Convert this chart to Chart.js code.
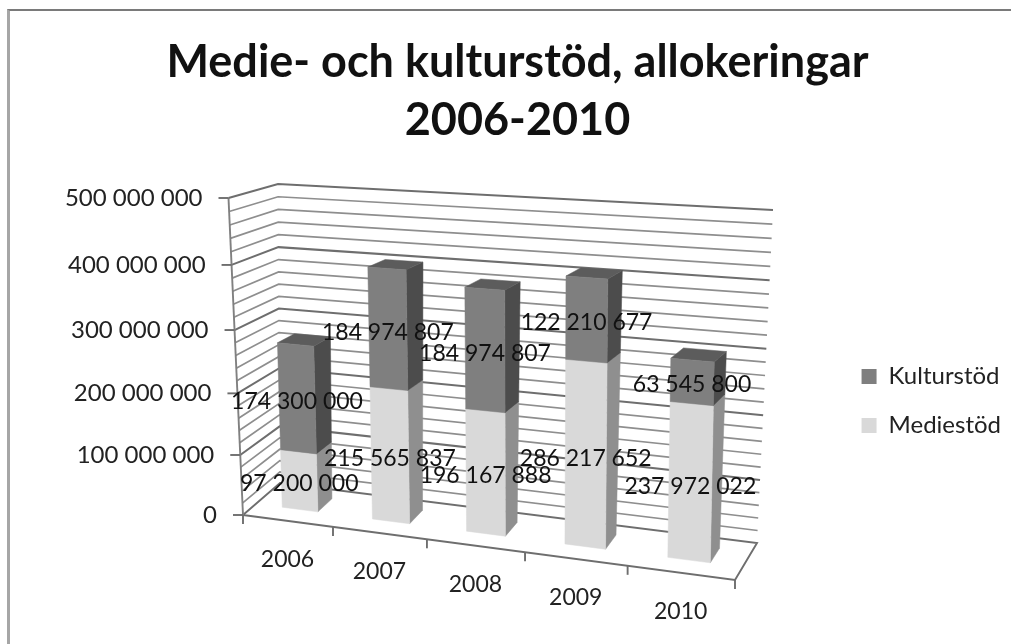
<!DOCTYPE html>
<html>
<head>
<meta charset="utf-8">
<style>
  html, body { margin: 0; background: #fff; }
  #wrap { position: relative; width: 1011px; height: 644px; overflow: hidden; }
  #frame { position: absolute; left: 7px; top: 9px; width: 1100px; height: 800px; box-sizing: border-box;
           border-top: 2px solid #7a7a7a; border-left: 3px solid #a6a6a6; filter: blur(0.4px); }
  canvas { position: absolute; left: 0; top: 0; filter: blur(0.7px); }
</style>
<script src="https://cdn.jsdelivr.net/npm/chart.js@4"></script>
</head>
<body>
<div id="wrap">
  <canvas id="chart" width="1011" height="644"></canvas>
  <div id="frame"></div>
</div>
<script>
const years = ['2006', '2007', '2008', '2009', '2010'];
const mediestod = [97200000, 215565837, 196167888, 286217652, 237972022];
const kulturstod = [174300000, 184974807, 184974807, 122210677, 63545800];
const seriesNames = ['Mediestöd', 'Kulturstöd'];
const frontColors = ['#d9d9d9', '#7f7f7f'];
const sideColors = ['#8f8f8f', '#4c4c4c'];
const topColors = ['#b5b5b5', '#5c5c5c'];

const fontFamily = 'Lato, "Open Sans", sans-serif';
const textFont = '23px ' + fontFamily;
const axisFont = '24px ' + fontFamily;

// Corners of the 3D box as they land on the picture (f = front, b = back)
const box = {
    fl0: [243, 515], fr0: [735, 580], fl1: [228.5, 198], fr1: [738.5, 229],
    bl0: [280, 483], br0: [757, 543], bl1: [278, 184], br1: [773, 210]
};
const perspX = 0.1045, perspY = 0.066;
const barFront = 0.35, barBack = 0.75;

function formatValue(v) {
    return String(Math.round(v)).replace(/\B(?=(\d{3})+$)/g, ' ');
}

// u, v, w are 0..1 along category axis, value axis and depth
function project(u, v, w) {
    const s = (1 - perspX) * u / (1 - perspX * u);
    const t = (1 - perspY) * v / (1 - perspY * v);
    const out = [0, 0];
    for (const i of [0, 1]) {
        const f0 = box.fl0[i] + (box.fr0[i] - box.fl0[i]) * s;
        const f1 = box.fl1[i] + (box.fr1[i] - box.fl1[i]) * s;
        const b0 = box.bl0[i] + (box.br0[i] - box.bl0[i]) * s;
        const b1 = box.bl1[i] + (box.br1[i] - box.bl1[i]) * s;
        const front = f0 + (f1 - f0) * t;
        const back = b0 + (b1 - b0) * t;
        out[i] = front + (back - front) * w;
    }
    return out;
}

function line(ctx, pts, color, width) {
    ctx.beginPath();
    pts.forEach((p, i) => i ? ctx.lineTo(p[0], p[1]) : ctx.moveTo(p[0], p[1]));
    ctx.strokeStyle = color;
    ctx.lineWidth = width;
    ctx.stroke();
}

function face(ctx, pts, color) {
    ctx.beginPath();
    pts.forEach((p, i) => i ? ctx.lineTo(p[0], p[1]) : ctx.moveTo(p[0], p[1]));
    ctx.closePath();
    ctx.fillStyle = color;
    ctx.fill();
    ctx.strokeStyle = color;
    ctx.lineWidth = 0.5;
    ctx.stroke();
}

const scene3d = {
    id: 'scene3d',
    beforeDatasetsDraw(chart) {
        const ctx = chart.ctx;
        const area = chart.chartArea;
        const yScale = chart.scales.y;
        const toU = px => (px - area.left) / area.width;
        const toV = px => (area.bottom - px) / area.height;

        ctx.save();

        // walls
        yScale.ticks.forEach(tick => {
            const v = toV(yScale.getPixelForValue(tick.value));
            const major = tick.value % 100000000 === 0;
            const color = major ? '#6e6e6e' : '#8e8e8e';
            const width = major ? 2 : 1.7;
            if (tick.value === 0) return;
            line(ctx, [project(0, v, 0), project(0, v, 1), project(1, v, 1)], color, width);
        });

        // floor outline and axes
        line(ctx, [project(0, 0, 0), project(0, 0, 1), project(1, 0, 1), project(1, 0, 0), project(0, 0, 0)], '#6e6e6e', 1.9);
        line(ctx, [project(0, 0, 0), project(0, 1, 0)], '#808080', 1.9);

        // value axis ticks and labels
        ctx.font = axisFont;
        ctx.fillStyle = '#222';
        ctx.textAlign = 'right';
        ctx.textBaseline = 'middle';
        yScale.ticks.forEach(tick => {
            if (tick.value % 100000000 !== 0) return;
            const p = project(0, toV(yScale.getPixelForValue(tick.value)), 0);
            line(ctx, [[p[0] - 10, p[1]], p], '#6e6e6e', 1.9);
            ctx.fillText(formatValue(tick.value), p[0] - 26, p[1]);
        });

        // category axis ticks and labels
        for (let i = 0; i <= years.length; i++) {
            const p = project(i / years.length, 0, 0);
            line(ctx, [p, [p[0], p[1] + 9]], '#6e6e6e', 1.9);
        }
        ctx.font = textFont;
        ctx.textAlign = 'center';
        years.forEach((year, i) => {
            const p = project((i + 0.5) / years.length, 0, 0);
            ctx.fillText(year, p[0], p[1] + 39);
        });

        // bars, left to right and bottom to top
        years.forEach((year, j) => {
            chart.data.datasets.forEach((ds, d) => {
                const el = chart.getDatasetMeta(d).data[j];
                const u0 = toU(el.x - el.width / 2), u1 = toU(el.x + el.width / 2);
                const v0 = toV(el.base), v1 = toV(el.y);
                face(ctx, [project(u1, v0, barFront), project(u1, v0, barBack), project(u1, v1, barBack), project(u1, v1, barFront)], sideColors[d]);
                face(ctx, [project(u0, v1, barFront), project(u1, v1, barFront), project(u1, v1, barBack), project(u0, v1, barBack)], topColors[d]);
                face(ctx, [project(u0, v0, barFront), project(u1, v0, barFront), project(u1, v1, barFront), project(u0, v1, barFront)], frontColors[d]);
            });
        });

        // value labels go on top of every bar
        ctx.fillStyle = '#111';
        ctx.textBaseline = 'middle';
        chart.data.datasets.forEach((ds, d) => {
            chart.getDatasetMeta(d).data.forEach((el, j) => {
                const p = project(toU(el.x), toV((el.y + el.base) / 2), barFront);
                ctx.fillText(formatValue(ds.data[j]), p[0], p[1] + 3);
            });
        });

        ctx.restore();
        return false; // the flat bars are replaced by the ones above
    }
};

new Chart(document.getElementById('chart'), {
    type: 'bar',
    data: {
        labels: years,
        datasets: [
            { label: seriesNames[0], data: mediestod, backgroundColor: frontColors[0] },
            { label: seriesNames[1], data: kulturstod, backgroundColor: frontColors[1] }
        ]
    },
    options: {
        responsive: false,
        animation: false,
        events: [],
        layout: { padding: { left: 24, top: 33, right: 0, bottom: 0 } },
        datasets: { bar: { barPercentage: 0.4, categoryPercentage: 1 } },
        scales: {
            x: { stacked: true, display: false },
            y: { stacked: true, display: false, min: 0, max: 500000000, ticks: { stepSize: 20000000, autoSkip: false } }
        },
        plugins: {
            tooltip: { enabled: false },
            title: {
                display: true,
                text: ['Medie- och kulturstöd, allokeringar', '2006-2010'],
                color: '#111',
                font: { family: fontFamily, size: 45, weight: 'bold', lineHeight: 1.3 },
                padding: { top: 0, bottom: 8 }
            },
            legend: {
                position: 'right',
                fullSize: false,
                reverse: true,
                labels: {
                    color: '#222',
                    font: { family: fontFamily, size: 24 },
                    boxWidth: 15,
                    boxHeight: 15,
                    padding: 25
                }
            }
        }
    },
    plugins: [scene3d]
});
</script>
</body>
</html>
